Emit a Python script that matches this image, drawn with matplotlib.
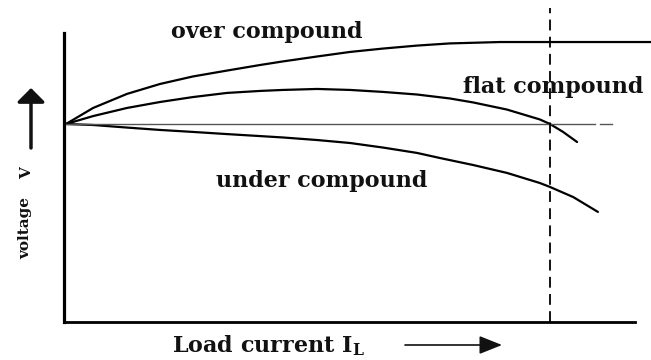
import matplotlib
matplotlib.use("Agg")
import matplotlib.pyplot as plt
from matplotlib.patches import FancyArrowPatch

# ---- data (relative load current, relative terminal voltage) ----
over_x = [0.0, 0.056, 0.126, 0.194, 0.262, 0.333, 0.401, 0.448, 0.519, 0.587,
          0.655, 0.725, 0.793, 0.897, 1.209]
over_y = [1.0, 1.081, 1.152, 1.202, 1.240, 1.270, 1.298, 1.316, 1.341, 1.364,
          1.381, 1.396, 1.407, 1.414, 1.414]

flat_x = [0.0, 0.056, 0.126, 0.194, 0.262, 0.333, 0.401, 0.448, 0.519, 0.587,
          0.655, 0.725, 0.793, 0.841, 0.911, 0.979, 1.000, 1.027, 1.056]
flat_y = [1.0, 1.040, 1.081, 1.111, 1.136, 1.157, 1.167, 1.172, 1.177, 1.172,
          1.162, 1.149, 1.129, 1.109, 1.073, 1.023, 1.000, 0.960, 0.909]

under_x = [0.0, 0.056, 0.126, 0.194, 0.262, 0.333, 0.401, 0.448, 0.519, 0.587,
           0.655, 0.725, 0.773, 0.841, 0.911, 0.979, 1.000, 1.048, 1.099]
under_y = [1.0, 0.995, 0.982, 0.970, 0.960, 0.949, 0.939, 0.932, 0.919, 0.904,
           0.881, 0.854, 0.828, 0.793, 0.753, 0.702, 0.682, 0.631, 0.556]

no_load_v = 1.0
ref_line_x = [0.0, 1.093]
ref_dash_x = [1.103, 1.128]
full_load_i = 1.0
full_load_top = 1.586

labels = ["over compound", "flat compound", "under compound"]
xlabel = r"Load current I$_{\mathbf{L}}$"
ylabel_v = "V"
ylabel_t = "voltage"

plt.rcParams["mathtext.fontset"] = "dejavuserif"
W, H = 651, 360
fig = plt.figure(figsize=(W / 100, H / 100), dpi=100)
ax = fig.add_axes([64 / W, (H - 322) / H, (635 - 64) / W, (322 - 33) / H])
ax.set_xlim(-2 / 484, 569 / 484)
ax.set_ylim(0, 289 / 198)
for s in ["top", "right"]:
    ax.spines[s].set_visible(False)
ax.spines["left"].set_linewidth(2.3)
ax.spines["bottom"].set_linewidth(2.0)
ax.set_xticks([])
ax.set_yticks([])

lw = 1.6
for xs, ys in [(over_x, over_y), (flat_x, flat_y), (under_x, under_y)]:
    ax.plot(xs, ys, color="black", lw=lw, clip_on=False,
            solid_capstyle="round", solid_joinstyle="round")
ax.plot(ref_line_x, [no_load_v, no_load_v], color="#555555", lw=1.0, clip_on=False)
ax.plot(ref_dash_x, [no_load_v, no_load_v], color="#555555", lw=1.0, clip_on=False)
ax.plot([full_load_i, full_load_i], [0, full_load_top], color="black", lw=1.3,
        dashes=(6, 3.5), clip_on=False)

tfont = dict(family="DejaVu Serif", weight="bold", color="#111111")
fig.text(267 / W, 1 - 32 / H, labels[0], ha="center", va="center", fontsize=16, **tfont)
fig.text(553 / W, 1 - 87 / H, labels[1], ha="center", va="center", fontsize=16, **tfont)
fig.text(322 / W, 1 - 181 / H, labels[2], ha="center", va="center", fontsize=16, **tfont)
fig.text(268 / W, 1 - 346 / H, xlabel, ha="center", va="center", fontsize=16, **tfont)
fig.text(27 / W, 1 - 173 / H, ylabel_v, ha="center", va="center", rotation=90, fontsize=11, **tfont)
fig.text(25 / W, 1 - 228 / H, ylabel_t, ha="center", va="center", rotation=90, fontsize=11, **tfont)

# direction arrows
fig.add_artist(FancyArrowPatch(
    (31 / W, 1 - 148 / H), (31 / W, 1 - 88 / H), transform=fig.transFigure,
    arrowstyle="-|>,head_length=0.6,head_width=0.6", mutation_scale=14,
    lw=2.5, color="#111111", shrinkA=0, shrinkB=0))
fig.add_artist(FancyArrowPatch(
    (405 / W, 1 - 345 / H), (502 / W, 1 - 345 / H), transform=fig.transFigure,
    arrowstyle="-|>,head_length=1.0,head_width=0.4", mutation_scale=14,
    lw=1.2, color="#111111", shrinkA=0, shrinkB=0))

fig.savefig("out.png", dpi=100)
